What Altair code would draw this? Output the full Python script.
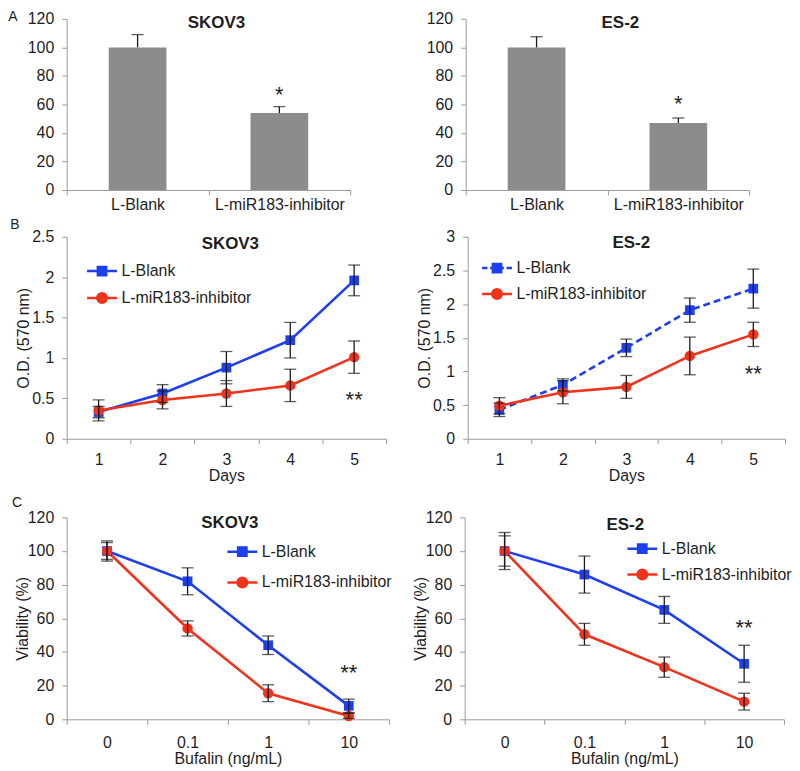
import altair as alt
import pandas as pd

# ---------------- data ----------------
SERIES = ["L-Blank", "L-miR183-inhibitor"]

# Panel A (bar charts)
A_GROUPS = ["L-Blank", "L-miR183-inhibitor"]
A_SKOV3_MEAN = [100, 54]
A_SKOV3_ERR = [9, 4.5]
A_ES2_MEAN = [100, 47]
A_ES2_ERR = [7.5, 3.5]
A_SKOV3_STAR = 70
A_ES2_STAR = 64
A_TICKS = [0, 20, 40, 60, 80, 100, 120]

# Panel B (proliferation, O.D. 570 nm)
DAYS = ["1", "2", "3", "4", "5"]
B_SKOV3_BLANK = [0.33, 0.56, 0.88, 1.22, 1.96]
B_SKOV3_BLANK_ERR = [0.07, 0.11, 0.20, 0.22, 0.19]
B_SKOV3_INHIB = [0.35, 0.48, 0.56, 0.66, 1.01]
B_SKOV3_INHIB_ERR = [0.13, 0.11, 0.16, 0.20, 0.20]
B_SKOV3_STAR = 0.54
B_SKOV3_TICKS = [0, 0.5, 1, 1.5, 2, 2.5]

B_ES2_BLANK = [0.43, 0.80, 1.35, 1.91, 2.23]
B_ES2_BLANK_ERR = [0.10, 0.09, 0.13, 0.18, 0.29]
B_ES2_INHIB = [0.49, 0.69, 0.77, 1.23, 1.55]
B_ES2_INHIB_ERR = [0.12, 0.17, 0.17, 0.28, 0.18]
B_ES2_STAR = 1.04
B_ES2_TICKS = [0, 0.5, 1, 1.5, 2, 2.5, 3]

# Panel C (viability vs bufalin)
DOSES = ["0", "0.1", "1", "10"]
C_SKOV3_BLANK = [100, 82, 44, 8]
C_SKOV3_BLANK_ERR = [6, 8, 5.5, 4]
C_SKOV3_INHIB = [100, 54, 15.5, 2]
C_SKOV3_INHIB_ERR = [5, 4.5, 5, 1.5]
C_SKOV3_STAR = 30.5

C_ES2_BLANK = [100, 86, 65, 33]
C_ES2_BLANK_ERR = [11, 11, 8, 11]
C_ES2_INHIB = [100, 50.5, 31, 10.5]
C_ES2_INHIB_ERR = [9, 6.5, 6, 5]
C_ES2_STAR = 57
C_TICKS = [0, 20, 40, 60, 80, 100, 120]

# ---------------- style ----------------
FONT = "Liberation Sans"
TXT = "#1e1e1e"
AXIS = "#9a9a9a"
BLUE = "#1e3ff0"
RED = "#f0341c"
BAR = "#8c8c8c"
ERR = "#1a1a1a"
FS = 16

SQ_PATH = "M-1,0H1M-0.28,-0.28H0.28V0.28H-0.28Z"
SQ_DASH_PATH = ("M-1,0H-0.64M-0.46,0H-0.3M0.3,0H0.46M0.64,0H1"
                "M-0.28,-0.28H0.28V0.28H-0.28Z")
CI_PATH = "M-1,0H1M-0.32,0A0.32,0.32 0 1,0 0.32,0A0.32,0.32 0 1,0 -0.32,0Z"


def x_enc(field, cats, title, label_pad, title_pad=0):
    ax = dict(labelAngle=0, tickBand="extent", tickSize=5, tickColor=AXIS,
              domainColor=AXIS, domainWidth=1, tickWidth=1, labelPadding=label_pad,
              labelFont=FONT, labelFontSize=FS, labelColor=TXT, grid=False,
              titleFont=FONT, titleFontSize=FS, titleFontWeight="normal",
              titleColor=TXT, titlePadding=title_pad)
    return alt.X(f"{field}:N", sort=cats,
                 scale=alt.Scale(type="band", domain=cats, paddingInner=0, paddingOuter=0),
                 axis=alt.Axis(title=title, **ax))


def y_enc(field, ticks, title, title_pad=0):
    ax = dict(values=ticks, format="~r", grid=False, tickSize=5, tickColor=AXIS,
              domainColor=AXIS, domainWidth=1, tickWidth=1, labelPadding=8,
              labelFont=FONT, labelFontSize=FS, labelColor=TXT,
              titleFont=FONT, titleFontSize=FS, titleFontWeight="normal",
              titleColor=TXT, titlePadding=title_pad)
    return alt.Y(f"{field}:Q",
                 scale=alt.Scale(domain=[ticks[0], ticks[-1]], nice=False, zero=True),
                 axis=alt.Axis(title=title, **ax))


def text_layer(text, tx, ty, size, weight="normal"):
    return alt.Chart(pd.DataFrame({"t": [text]})).mark_text(
        font=FONT, fontSize=size, fontWeight=weight, color=TXT, align="center",
        baseline="middle"
    ).encode(text="t:N", x=alt.value(tx), y=alt.value(ty))


def bar_panel(means, errs, star, title, title_xy, letter=None, width=285, height=172):
    df = pd.DataFrame({"grp": A_GROUPS, "mean": means,
                       "hi": [m + e for m, e in zip(means, errs)]})
    x = x_enc("grp", A_GROUPS, None, 2)
    base = alt.Chart(df)
    bars = base.mark_bar(size=58, color=BAR).encode(x=x, y=y_enc("mean", A_TICKS, None))
    err = base.mark_rule(color=ERR, strokeWidth=1.3).encode(
        x=x, y=y_enc("mean", A_TICKS, None), y2="hi:Q")
    cap = base.mark_tick(color=ERR, thickness=1.3, size=12).encode(
        x=x, y=y_enc("hi", A_TICKS, None))
    sdf = pd.DataFrame({"grp": [A_GROUPS[1]], "y": [star], "t": ["*"]})
    st = alt.Chart(sdf).mark_text(font=FONT, fontSize=22, color=TXT, baseline="middle",
                                  dy=5).encode(x=x, y=y_enc("y", A_TICKS, None), text="t:N")
    layers = [bars, err, cap, st,
              text_layer(title, width / 2 + title_xy[0], title_xy[1], 17, "bold")]
    if letter:
        layers.append(text_layer(letter[0], letter[1], letter[2], 14))
    return alt.layer(*layers).properties(width=width, height=height)


def line_panel(cats, blank, blank_err, inhib, inhib_err, star, ticks, xtitle, ytitle,
               title, title_xy, legend_xy, dashed=False, letter=None, width=321,
               height=203, title_pad=0, row_pad=1, xtitle_pad=0, xlabel_pad=8):
    rows = []
    for s, m, e in ((SERIES[0], blank, blank_err), (SERIES[1], inhib, inhib_err)):
        for c, mv, ev in zip(cats, m, e):
            rows.append({"cat": c, "series": s, "mean": mv, "lo": mv - ev, "hi": mv + ev})
    df = pd.DataFrame(rows)
    base = alt.Chart(df)
    x = x_enc("cat", cats, xtitle, xlabel_pad, xtitle_pad)

    def Y(f):
        return y_enc(f, ticks, ytitle, title_pad)

    layers = []
    for s, color in ((SERIES[0], BLUE), (SERIES[1], RED)):
        kw = dict(color=color, strokeWidth=2.6)
        if dashed and s == SERIES[0]:
            kw["strokeDash"] = [7, 4]
        layers.append(base.transform_filter(alt.datum.series == s)
                      .mark_line(**kw).encode(x=x, y=Y("mean")))
    layers.append(base.transform_filter(alt.datum.series == SERIES[0])
                  .mark_point(shape="square", filled=True, size=95, color=BLUE, opacity=1)
                  .encode(x=x, y=Y("mean")))
    layers.append(base.transform_filter(alt.datum.series == SERIES[1])
                  .mark_point(shape="circle", filled=True, size=110, color=RED, opacity=1)
                  .encode(x=x, y=Y("mean")))
    layers.append(base.mark_rule(color=ERR, strokeWidth=1.3).encode(x=x, y=Y("lo"), y2="hi:Q"))
    layers.append(base.mark_tick(color=ERR, thickness=1.3, size=12).encode(x=x, y=Y("lo")))
    layers.append(base.mark_tick(color=ERR, thickness=1.3, size=12).encode(x=x, y=Y("hi")))

    leg = alt.Legend(title=None, orient="none", legendX=legend_xy[0], legendY=legend_xy[1],
                     labelFont=FONT, labelFontSize=FS, labelColor=TXT, symbolSize=900,
                     symbolStrokeWidth=2.5, symbolOpacity=1, rowPadding=row_pad,
                     labelOffset=3, padding=0)
    col_sc = alt.Scale(domain=SERIES, range=[BLUE, RED])
    shapes = [SQ_DASH_PATH if dashed else SQ_PATH, CI_PATH]
    enc = dict(fill=alt.Fill("series:N", scale=col_sc, legend=leg),
               stroke=alt.Stroke("series:N", scale=col_sc, legend=leg),
               shape=alt.Shape("series:N", scale=alt.Scale(domain=SERIES, range=shapes),
                               legend=leg))
    layers.append(base.mark_point(filled=True, opacity=0).encode(x=x, y=Y("mean"), **enc))

    sdf = pd.DataFrame({"cat": [cats[-1]], "y": [star], "t": ["**"]})
    layers.append(alt.Chart(sdf).mark_text(font=FONT, fontSize=22, color=TXT, baseline="middle",
                                           dy=5).encode(x=x, y=Y("y"), text="t:N"))
    layers.append(text_layer(title, width / 2 + title_xy[0], title_xy[1], 17, "bold"))
    if letter:
        layers.append(text_layer(letter[0], letter[1], letter[2], 14))
    return alt.layer(*layers).properties(width=width, height=height)


RES = dict(fill="independent", stroke="independent", shape="independent")

pA1 = bar_panel(A_SKOV3_MEAN, A_SKOV3_ERR, A_SKOV3_STAR, "SKOV3", (8, 4),
                letter=("A", -54, -2))
pA2 = bar_panel(A_ES2_MEAN, A_ES2_ERR, A_ES2_STAR, "ES-2", (13, 4))

pB1 = line_panel(DAYS, B_SKOV3_BLANK, B_SKOV3_BLANK_ERR, B_SKOV3_INHIB, B_SKOV3_INHIB_ERR,
                 B_SKOV3_STAR, B_SKOV3_TICKS, "Days", "O.D. (570 nm)", "SKOV3", (4, 7),
                 (19, 18), letter=("B", -52, -12))
pB2 = line_panel(DAYS, B_ES2_BLANK, B_ES2_BLANK_ERR, B_ES2_INHIB, B_ES2_INHIB_ERR,
                 B_ES2_STAR, B_ES2_TICKS, "Days", "O.D. (570 nm)", "ES-2", (5, 6),
                 (13, 15), dashed=True, width=319, row_pad=-3)

pC1 = line_panel(DOSES, C_SKOV3_BLANK, C_SKOV3_BLANK_ERR, C_SKOV3_INHIB, C_SKOV3_INHIB_ERR,
                 C_SKOV3_STAR, C_TICKS, "Bufalin (ng/mL)", "Viability (%)", "SKOV3", (2, 6),
                 (160, 18), letter=("C", -50, -14), width=324, row_pad=5, title_pad=-3,
                 xlabel_pad=10, xtitle_pad=0)
pC2 = line_panel(DOSES, C_ES2_BLANK, C_ES2_BLANK_ERR, C_ES2_INHIB, C_ES2_INHIB_ERR,
                 C_ES2_STAR, C_TICKS, "Bufalin (ng/mL)", "Viability (%)", "ES-2", (1, 8),
                 (162, 15), row_pad=-3, title_pad=-3, xlabel_pad=10, xtitle_pad=0)

rowA = alt.hconcat(pA1, pA2, spacing=75).resolve_scale(**RES)
rowB = alt.hconcat(pB1, pB2, spacing=29).resolve_scale(**RES)
rowC = alt.hconcat(pC1, pC2, spacing=20).resolve_scale(**RES)

chart = alt.vconcat(
    rowA,
    alt.vconcat(rowB, rowC, spacing=13).resolve_scale(**RES),
    spacing=5,
).resolve_scale(**RES).properties(
    padding=0, background="white"
).configure_view(stroke=None)

chart.save("out.html", embed_options={"renderer": "svg", "actions": False})
